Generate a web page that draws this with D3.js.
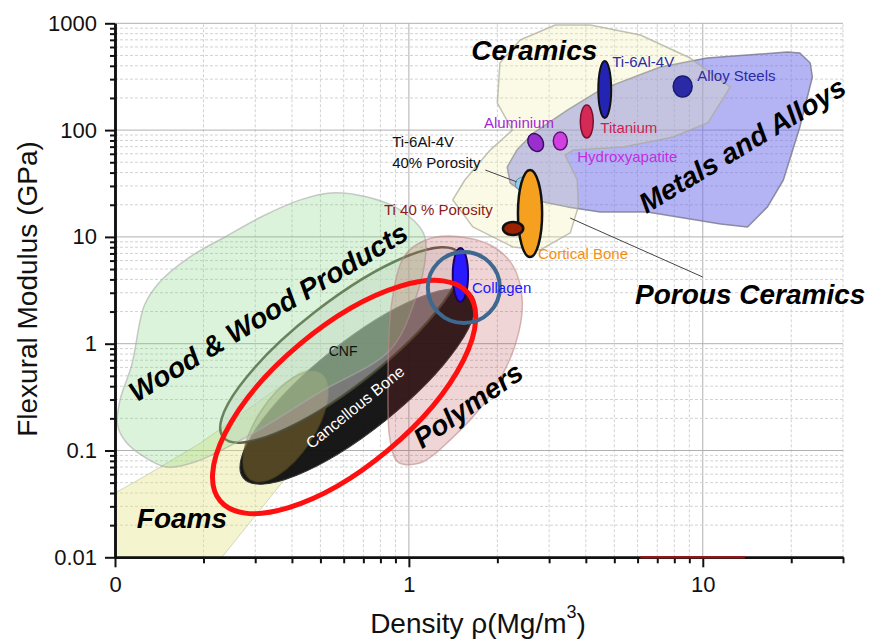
<!DOCTYPE html>
<html>
<head>
<meta charset="utf-8">
<script src="https://cdn.jsdelivr.net/npm/d3@7"></script>
<style>
  body { margin: 0; background: #fff; }
  svg text { font-family: "Liberation Sans", Arial, sans-serif; }
</style>
</head>
<body>
<svg id="chart" width="871" height="642"></svg>
<script>
/* ===============================
   Data
================================ */

const densityTicks = [0.1, 1, 10];
const densityTickLabels = ["0", "1", "10"];
const modulusTicks = [0.01, 0.1, 1, 10, 100, 1000];
const modulusTickLabels = ["0.01", "0.1", "1", "10", "100", "1000"];

// material family envelopes, [density Mg/m3, modulus GPa]
const metalsRegion = [
  [2.16, 45.1], [2.33, 65], [2.65, 93.9], [3.46, 154], [4.48, 238], [7.17, 390],
  [10.35, 473], [19.4, 539], [21.4, 527], [23.2, 425], [23.6, 314], [21.4, 107],
  [18.8, 34.1], [16.6, 19.1], [14.2, 12.4], [11.5, 13.2], [6.47, 17.1], [4.48, 17.1],
  [3.46, 19.1], [2.65, 22.2], [2.21, 32.0]
];
const ceramicsRegion = [
  [4.14, 964], [6.13, 777], [9.06, 473], [12.4, 253], [10.4, 117], [7.93, 86.1],
  [5.36, 69.5], [3.62, 65], [3.40, 58.5], [3.74, 34.1], [3.77, 19.1], [3.54, 10.9],
  [2.80, 7.55], [2.26, 8.05], [1.65, 12.4], [1.41, 22.2], [1.55, 34.1], [1.89, 65],
  [2.25, 100], [2.00, 179], [2.04, 425], [2.39, 698], [3.15, 964]
];
const foamsRegion = [
  [0.1, 0.040], [0.125, 0.0565], [0.195, 0.117], [0.427, 0.543], [0.561, 0.675],
  [0.607, 0.410], [0.427, 0.0815], [0.231, 0.01], [0.1, 0.01]
];
const woodRegion = [
  [0.427, 22.2], [0.319, 15.7], [0.240, 10.2], [0.180, 6.49], [0.142, 3.78],
  [0.126, 2.30], [0.114, 0.632], [0.104, 0.297], [0.102, 0.173], [0.109, 0.120],
  [0.126, 0.0869], [0.150, 0.070], [0.187, 0.078], [0.288, 0.140], [0.499, 0.353],
  [0.863, 0.873], [1.05, 2.57], [1.14, 6.77], [1.12, 10.9], [0.933, 17.9],
  [0.722, 23.6], [0.540, 25.8]
];
const polymersRegion = [
  [0.863, 0.125], [0.849, 0.297], [0.877, 2.57], [0.971, 6.77], [1.14, 9.36],
  [1.38, 10.2], [1.89, 8.40], [2.25, 5.46], [2.43, 2.57], [2.30, 0.973],
  [1.89, 0.331], [1.38, 0.125], [1.09, 0.0764], [0.918, 0.078]
];

// elongated bubbles: the two ends of the long axis
const cancellousTips = [[0.273, 0.0553], [1.64, 2.86]];
const oliveTips = [[0.289, 0.0535], [0.5005, 0.526]];
const cnfTips = [[0.233, 0.134], [1.48, 7.07]];
const highlightTips = [[0.228, 0.0337], [1.59, 2.98]];

// single materials: density range, modulus range
const materialNames = ["Ti-6Al-4V", "Titanium", "Alloy Steels", "Aluminium", "Hydroxyapatite",
  "Ti-6Al-4V 40% Porosity", "Cortical Bone", "Ti 40 % Porosity", "Collagen"];
const materialDensity = [[4.41, 4.88], [3.83, 4.24], [7.93, 9.2], [2.55, 2.86], [3.10, 3.46],
  [2.30, 2.63], [2.35, 2.84], [2.09, 2.45], [1.41, 1.59]];
const materialModulus = [[130, 444], [84.4, 172], [204, 321], [62.4, 93.9], [65, 96],
  [26.9, 36.4], [6.48, 42.4], [10.4, 13.8], [2.46, 7.87]];

const collagenRing = { density: [1.16, 2.04], modulus: [1.56, 7.22] };

const leaderLines = [
  [[1.82, 42.3], [2.33, 32.7]],
  [[3.54, 15.0], [10.0, 4.21]]
];
const axisMark = [[6.13, 0.01], [13.9, 0.01]];

/* ===============================
   Styles
================================ */

const MATERIAL_STYLE = [
  { fill: "#2424b4", stroke: "#111", sw: 2 },
  { fill: "#d42a55", stroke: "#7a1030", sw: 1.5 },
  { fill: "#2a2aa6", stroke: "#1a1a70", sw: 1.5 },
  { fill: "#9a2fd0", stroke: "#3a1060", sw: 1.5, tilt: -30 },
  { fill: "#d23fe0", stroke: "#5a1870", sw: 1.5 },
  { fill: "#92cde0", stroke: "#5a8fa8", sw: 1 },
  { fill: "#f5a01e", stroke: "#111", sw: 2.5 },
  { fill: "#9a2200", stroke: "#111", sw: 2.5 },
  { fill: "#2a1aff", stroke: "#200060", sw: 2 }
];

const labels = [
  { text: "Ceramics", at: [2.67, 562], size: 28, big: true },
  { text: "Metals and Alloys", at: [13.6, 72.5], size: 28, big: true, rot: -31 },
  { text: "Porous Ceramics", at: [14.5, 2.92], size: 28, big: true },
  { text: "Wood & Wood Products", at: [0.332, 1.98], size: 28, big: true, rot: -31 },
  { text: "Polymers", at: [1.59, 0.267], size: 28, big: true, rot: -35 },
  { text: "Foams", at: [0.169, 0.0233], size: 28, big: true },
  { text: "CNF", at: [0.597, 0.855], size: 14, color: "#111" },
  { text: "Cancellous Bone", at: [0.656, 0.255], size: 16, color: "#fff", rot: -39 },
  { text: "Collagen", at: [1.64, 3.32], size: 15, color: "#1a1aff", start: true },
  { text: "Cortical Bone", at: [2.75, 6.92], size: 15, color: "#f39014", start: true },
  { text: "Ti 40 % Porosity", at: [0.823, 17.9], size: 15, color: "#8b1a1a", start: true },
  { text: "Ti-6Al-4V", at: [0.877, 77.4], size: 15, color: "#111", start: true },
  { text: "40% Porosity", at: [0.877, 49.2], size: 15, color: "#111", start: true },
  { text: "Aluminium", at: [1.80, 117], size: 15, color: "#a326d6", start: true },
  { text: "Hydroxyapatite", at: [3.74, 56.0], size: 15, color: "#c22ee0", start: true },
  { text: "Titanium", at: [4.48, 105], size: 15, color: "#d01f50", start: true },
  { text: "Ti-6Al-4V", at: [4.92, 434], size: 15, color: "#2b2ba6", start: true },
  { text: "Alloy Steels", at: [9.57, 321], size: 15, color: "#2b2ba6", start: true }
];

/* ===============================
   Scales
================================ */

const svg = d3.select("#chart");
const x = d3.scaleLog().domain([0.1, 30]).range([115, 843]);
const y = d3.scaleLog().domain([0.01, 1000]).range([557.3, 23.3]);

const isMajor = v => Math.abs(Math.log10(v) - Math.round(Math.log10(v))) < 1e-6;

svg.append("clipPath").attr("id", "plot")
  .append("rect")
  .attr("x", x.range()[0]).attr("y", y.range()[1])
  .attr("width", x.range()[1] - x.range()[0])
  .attr("height", y.range()[0] - y.range()[1]);

/* -------- GRID -------- */

const grid = svg.append("g");
x.ticks().forEach(v => {
  grid.append("line")
    .attr("x1", x(v)).attr("x2", x(v))
    .attr("y1", y.range()[0]).attr("y2", y.range()[1])
    .attr("stroke", isMajor(v) ? "#b0b0b0" : "#d2d2d2")
    .attr("stroke-dasharray", isMajor(v) ? null : "3,2");
});
y.ticks().forEach(v => {
  grid.append("line")
    .attr("y1", y(v)).attr("y2", y(v))
    .attr("x1", x.range()[0]).attr("x2", x.range()[1])
    .attr("stroke", isMajor(v) ? "#b0b0b0" : "#d2d2d2")
    .attr("stroke-dasharray", isMajor(v) ? null : "3,2");
});

/* -------- REGIONS & BUBBLES -------- */

const plot = svg.append("g").attr("clip-path", "url(#plot)");

const poly = d3.line().x(d => x(d[0])).y(d => y(d[1])).curve(d3.curveLinearClosed);
const smooth = d3.line().x(d => x(d[0])).y(d => y(d[1])).curve(d3.curveCatmullRomClosed.alpha(0.5));

function region(pts, gen, fill, stroke, sw) {
  return plot.append("path").attr("d", gen(pts))
    .attr("fill", fill).attr("stroke", stroke).attr("stroke-width", sw)
    .attr("stroke-linejoin", "round");
}

function band(g, tips, halfWidth) {
  const [p1, p2] = tips.map(([d, e]) => [x(d), y(e)]);
  const cx = (p1[0] + p2[0]) / 2, cy = (p1[1] + p2[1]) / 2;
  const rx = Math.hypot(p2[0] - p1[0], p2[1] - p1[1]) / 2;
  const ang = Math.atan2(p2[1] - p1[1], p2[0] - p1[0]) * 180 / Math.PI;
  return g.append("ellipse")
    .attr("cx", cx).attr("cy", cy).attr("rx", rx).attr("ry", halfWidth)
    .attr("transform", `rotate(${ang},${cx},${cy})`);
}

function rangeEllipse(g, dr, er, tilt = 0) {
  const x0 = x(dr[0]), x1 = x(dr[1]), y0 = y(er[0]), y1 = y(er[1]);
  const cx = (x0 + x1) / 2, cy = (y0 + y1) / 2;
  return g.append("ellipse")
    .attr("cx", cx).attr("cy", cy)
    .attr("rx", (x1 - x0) / 2).attr("ry", (y0 - y1) / 2)
    .attr("transform", `rotate(${tilt},${cx},${cy})`);
}

region(metalsRegion, poly, "rgba(105,105,235,0.5)", "rgba(120,120,140,0.8)", 1.5);
region(ceramicsRegion, poly, "rgba(238,238,170,0.28)", "rgba(170,170,150,0.7)", 1.5);
region(foamsRegion, poly, "rgba(225,225,130,0.38)", "rgba(190,190,160,0.6)", 1);

band(plot, cancellousTips, 44)
  .attr("fill", "rgba(12,12,12,0.95)").attr("stroke", "#333").attr("stroke-width", 1);
band(plot, oliveTips, 29)
  .attr("fill", "rgba(140,115,50,0.5)").attr("stroke", "rgba(80,70,30,0.5)").attr("stroke-width", 1.5);
band(plot, cnfTips, 42)
  .attr("fill", "rgba(220,220,220,0.5)").attr("stroke", "rgba(75,75,55,0.85)").attr("stroke-width", 2.5);

region(woodRegion, smooth, "rgba(120,210,120,0.27)", "rgba(170,170,170,0.6)", 1.5);
region(polymersRegion, smooth, "rgba(175,45,45,0.2)", "rgba(190,140,140,0.6)", 1.5);

materialNames.forEach((name, i) => {
  const s = MATERIAL_STYLE[i];
  rangeEllipse(plot, materialDensity[i], materialModulus[i], s.tilt || 0)
    .attr("fill", s.fill).attr("stroke", s.stroke).attr("stroke-width", s.sw);
});

leaderLines.forEach(l => {
  svg.append("line")
    .attr("x1", x(l[0][0])).attr("y1", y(l[0][1]))
    .attr("x2", x(l[1][0])).attr("y2", y(l[1][1]))
    .attr("stroke", "#444").attr("stroke-width", 1);
});

/* -------- AXES -------- */

const majorX = d3.axisBottom(x).tickValues(densityTicks)
  .tickFormat((d, i) => densityTickLabels[i]).tickSize(10).tickSizeOuter(0).tickPadding(9);
const minorX = d3.axisBottom(x).tickValues(x.ticks().filter(v => !isMajor(v)))
  .tickFormat("").tickSize(6).tickSizeOuter(0);
const majorY = d3.axisLeft(y).tickValues(modulusTicks)
  .tickFormat((d, i) => modulusTickLabels[i]).tickSize(10).tickSizeOuter(0).tickPadding(8);
const minorY = d3.axisLeft(y).tickValues(y.ticks().filter(v => !isMajor(v)))
  .tickFormat("").tickSize(5).tickSizeOuter(0);

const bottom = y.range()[0], left = x.range()[0];
[minorX, majorX].forEach(a => {
  svg.append("g").attr("transform", `translate(0,${bottom})`).call(a)
    .call(g => g.selectAll("line").attr("stroke", "#111").attr("stroke-width", 2));
});
[minorY, majorY].forEach(a => {
  svg.append("g").attr("transform", `translate(${left},0)`).call(a)
    .call(g => g.selectAll("line").attr("stroke", "#111").attr("stroke-width", 2));
});
svg.selectAll(".domain").attr("stroke", "#111").attr("stroke-width", 2.5);
svg.selectAll(".tick text").attr("font-size", 22).attr("fill", "#111")
  .style("font-family", "'Liberation Sans', Arial, sans-serif");

svg.append("line")
  .attr("x1", x(axisMark[0][0])).attr("x2", x(axisMark[1][0]))
  .attr("y1", y(axisMark[0][1])).attr("y2", y(axisMark[1][1]))
  .attr("stroke", "#8b1a1a").attr("stroke-width", 2.5);

/* -------- HIGHLIGHTS -------- */

band(svg.append("g").attr("clip-path", "url(#plot)"), highlightTips, 69)
  .attr("fill", "none").attr("stroke", "#ff1010").attr("stroke-width", 5);
rangeEllipse(svg, collagenRing.density, collagenRing.modulus)
  .attr("fill", "none").attr("stroke", "#3d6890").attr("stroke-width", 4);

/* -------- LABELS -------- */

labels.forEach(l => {
  const px = x(l.at[0]), py = y(l.at[1]);
  svg.append("text")
    .attr("x", px).attr("y", py).attr("dy", "0.35em")
    .attr("text-anchor", l.start ? "start" : "middle")
    .attr("transform", l.rot ? `rotate(${l.rot},${px},${py})` : null)
    .attr("font-size", l.size)
    .attr("font-weight", l.big ? "bold" : "normal")
    .attr("font-style", l.big ? "italic" : "normal")
    .attr("fill", l.color || "#000")
    .text(l.text);
});

svg.append("text")
  .attr("transform", "translate(27,289) rotate(-90)")
  .attr("text-anchor", "middle").attr("dy", "0.35em")
  .attr("font-size", 28).attr("fill", "#111")
  .text("Flexural Modulus (GPa)");

const xl = svg.append("text")
  .attr("x", 478).attr("y", 633)
  .attr("text-anchor", "middle")
  .attr("font-size", 28).attr("fill", "#111");
xl.append("tspan").text("Density ρ(Mg/m");
xl.append("tspan").attr("dy", -15).attr("font-size", 18).text("3");
xl.append("tspan").attr("dy", 15).text(")");
</script>
</body>
</html>
